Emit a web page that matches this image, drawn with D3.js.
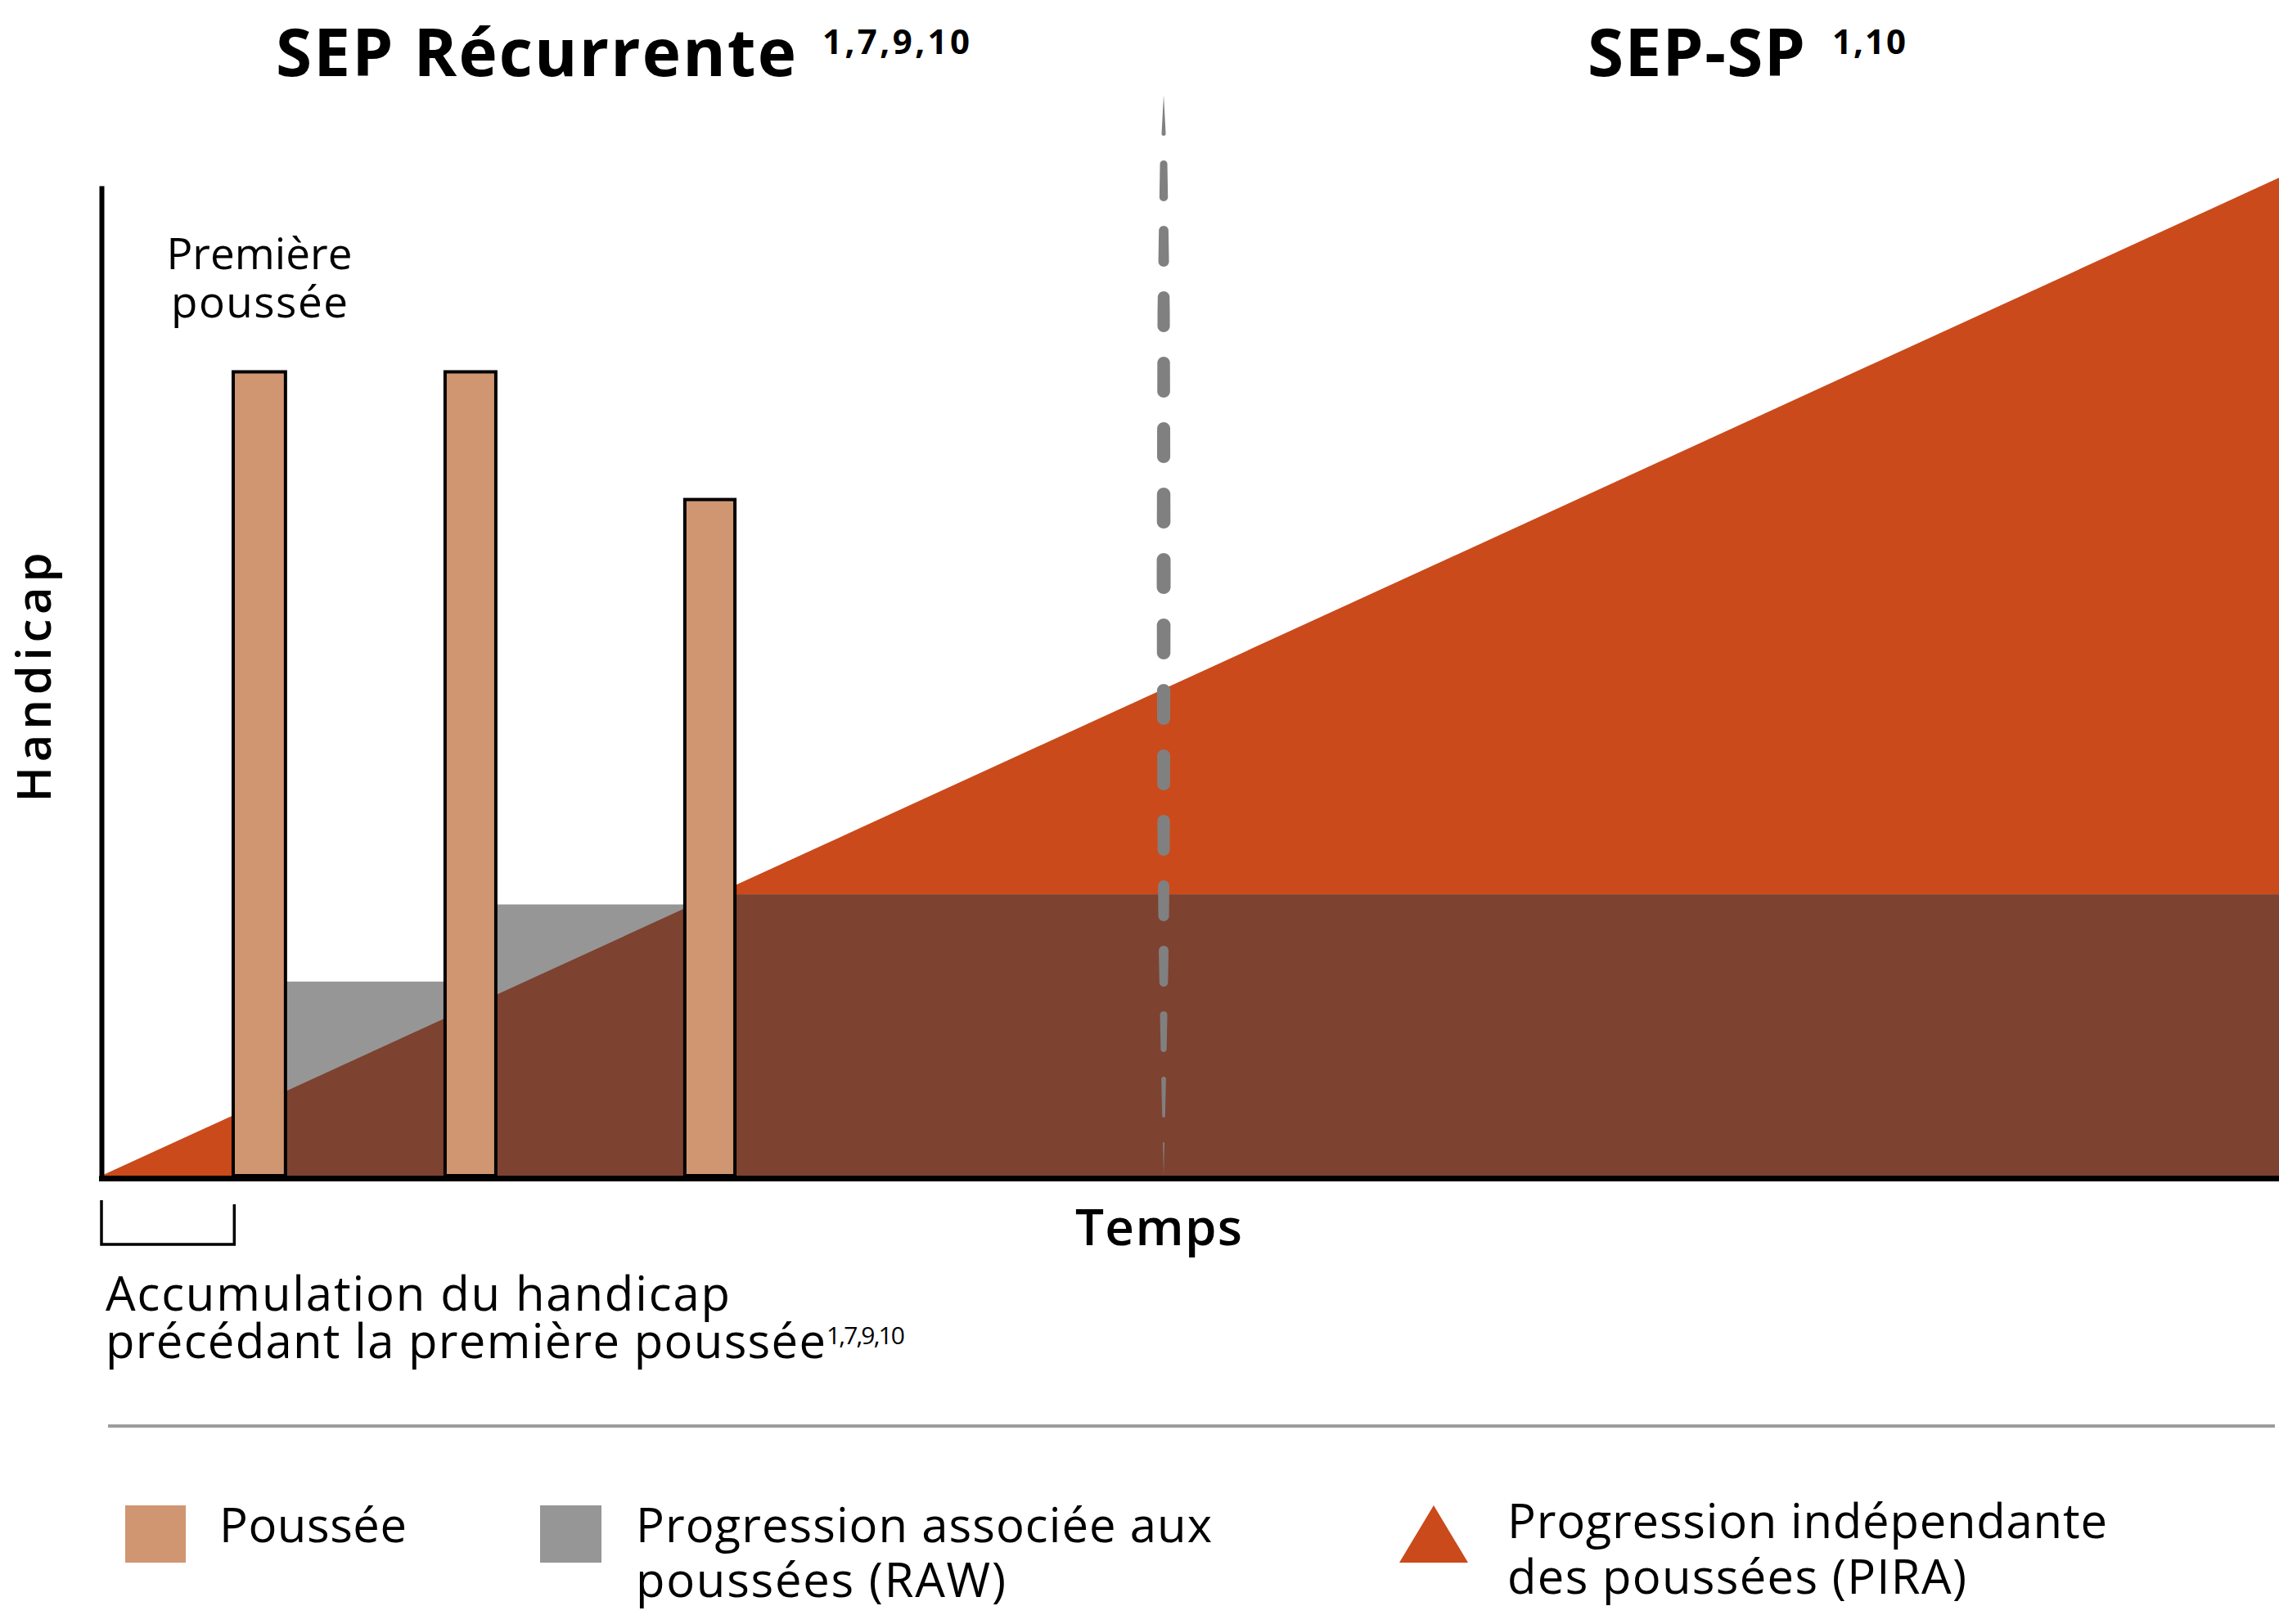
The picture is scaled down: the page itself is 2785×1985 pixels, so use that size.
<!DOCTYPE html>
<html><head><meta charset="utf-8">
<script src="https://cdn.jsdelivr.net/npm/d3@7"></script>
<style>
body{margin:0;background:#fff}
svg{display:block}
text{font-family:"Open Sans",sans-serif;fill:#000}
</style>
</head><body>
<svg id="chart" width="2785" height="1985"></svg>
<script>
// ---------------- data ----------------
const relapseNames   = ["Première poussée", "Poussée 2", "Poussée 3"];
const relapseStart   = [6.05, 15.78, 26.79];
const relapseEnd     = [8.45, 18.11, 29.09];
const relapseHeight  = [81.2, 81.2, 68.3];
const rawTime        = [0, 7.25, 16.95, 27.94, 100];
const rawLevel       = [0, 19.6, 27.4, 28.4, 28.4];
const piraTime       = [0, 100];
const piraLevel      = [0, 100.8];
const transitionTime = 48.78;
const preRelapseSpan = [0, 6.1];
const phaseTitles    = ["SEP Récurrente", "SEP-SP"];
const phaseRefs      = ["1,7,9,10", "1,10"];
const axisTitles     = ["Temps", "Handicap"];
const firstRelapseLabel = ["Première", "poussée"];
const bracketLabel   = ["Accumulation du handicap", "précédant la première poussée"];
const bracketRef     = "1,7,9,10";
const legendLabels   = [["Poussée"], ["Progression associée aux", "poussées (RAW)"], ["Progression indépendante", "des poussées (PIRA)"]];

// ---------------- styles ----------------
const C = {orange:"#CA4A1B", brown:"#7E4230", gray:"#969696", bar:"#D09672", dash:"#808080", sep:"#9C9C9C"};

const svg = d3.select("#chart");
const x = d3.scaleLinear().domain([0, 100]).range([124, 2785]);
const y = d3.scaleLinear().domain([0, 100]).range([1437, 227]);

const raw  = rawTime.map((t, i) => ({t, v: rawLevel[i]}));
const pira = piraTime.map((t, i) => ({t, v: piraLevel[i]}));

const areaStep = d3.area().x(d => x(d.t)).y0(y(0)).y1(d => y(d.v)).curve(d3.curveStepAfter);
const areaLin  = d3.area().x(d => x(d.t)).y0(y(0)).y1(d => y(d.v));

const defs = svg.append("defs");
defs.append("clipPath").attr("id", "piraClip").append("path").attr("d", areaLin(pira));

// PIRA triangle
svg.append("path").attr("d", areaLin(pira)).attr("fill", C.orange);
// RAW step area
svg.append("path").attr("d", areaStep(raw)).attr("fill", C.gray);
// overlap (RAW ∩ PIRA)
svg.append("path").attr("d", areaStep(raw)).attr("fill", C.brown).attr("clip-path", "url(#piraClip)");

// tapered dashed transition line
const cx = x(transitionTime);
const dashTop = 116, dashBottom = y(0), dashPeriod = 80, dashLen = 50;
const wScale = d3.scaleLinear()
  .domain([116, 200, 380, 700, 1000, 1150, 1314, 1437])
  .range([0, 9, 15, 17, 15.5, 12.5, 6, 0]).clamp(true);
const dashArea = d3.area().y(d => d.y).x0(d => cx - d.h).x1(d => cx + d.h);
function dashPts(y0, y1) {
  const pts = [];
  const r0 = wScale(y0) / 2, r1 = wScale(y1) / 2;
  const ys = d3.range(y0, y1, 0.5).concat([y1]);
  ys.forEach(yy => {
    let h = wScale(yy) / 2;
    const dT = yy - y0, dB = y1 - yy;
    if (r0 > 0 && dT < r0) h *= Math.sqrt(Math.max(0, 1 - Math.pow((r0 - dT) / r0, 2)));
    if (r1 > 0 && dB < r1) h *= Math.sqrt(Math.max(0, 1 - Math.pow((r1 - dB) / r1, 2)));
    pts.push({y: yy, h});
  });
  return pts;
}
const dashStarts = d3.range(dashTop, dashBottom, dashPeriod);
svg.append("g").selectAll("path").data(dashStarts).join("path")
  .attr("d", s => dashArea(dashPts(s, Math.min(s + dashLen, dashBottom))))
  .attr("fill", C.dash);

// relapse bars
svg.append("g").selectAll("rect").data(relapseNames).join("rect")
  .attr("x", (d, i) => x(relapseStart[i]))
  .attr("width", (d, i) => x(relapseEnd[i]) - x(relapseStart[i]))
  .attr("y", (d, i) => y(relapseHeight[i]))
  .attr("height", (d, i) => y(0) - y(relapseHeight[i]))
  .attr("fill", C.bar).attr("stroke", "#000").attr("stroke-width", 4);

// axes (no ticks)
const gx = svg.append("g").attr("transform", "translate(0,1440)")
  .call(d3.axisBottom(x).tickValues([]).tickSizeOuter(0));
gx.select(".domain").attr("stroke", "#000").attr("stroke-width", 7).attr("stroke-linecap", "square");
const gy = svg.append("g").attr("transform", "translate(124,0)")
  .call(d3.axisLeft(y).tickValues([]).tickSizeOuter(0));
gy.select(".domain").attr("stroke", "#000").attr("stroke-width", 6);

// bracket under the pre-relapse period
const b0 = x(preRelapseSpan[0]), b1 = x(preRelapseSpan[1]);
svg.append("path").attr("d", `M${b0},1467V1521H${b1}V1472`)
  .attr("fill", "none").attr("stroke", "#000").attr("stroke-width", 3.5);

// text helpers
function txt(str, px, py, o) {
  const t = svg.append("text").attr("x", px).attr("y", py).text(str)
    .attr("font-size", o.size).attr("font-weight", o.weight || 400)
    .attr("text-anchor", o.anchor || "start");
  if (o.len) t.attr("textLength", o.len).attr("lengthAdjust", "spacing");
  if (o.transform) t.attr("transform", o.transform);
  return t;
}
// multi-line text: one <text>, one <tspan> per line
function block(lines, o) {
  const t = svg.append("text").attr("font-size", o.size).attr("font-weight", o.weight || 400)
    .attr("text-anchor", o.anchor || "start");
  lines.forEach((ln, i) => {
    const s = t.append("tspan").attr("x", ln.x).attr("y", ln.y).text(ln.text);
    if (ln.len) s.attr("textLength", ln.len).attr("lengthAdjust", "spacing");
    if (ln.size) s.attr("font-size", ln.size);
  });
  return t;
}

// phase titles
txt(phaseTitles[0], 337, 93, {size: 80, weight: 700, len: 636});
txt(phaseRefs[0], 1005, 66, {size: 42, weight: 700, len: 180});
txt(phaseTitles[1], 1940, 93, {size: 80, weight: 700, len: 266});
txt(phaseRefs[1], 2239, 66, {size: 42, weight: 700, len: 90});

// first relapse label
const bc = (x(relapseStart[0]) + x(relapseEnd[0])) / 2;
block([
  {text: firstRelapseLabel[0], x: bc, y: 329, len: 227},
  {text: firstRelapseLabel[1], x: bc, y: 388, len: 216}
], {size: 53, anchor: "middle"});

// axis titles
txt(axisTitles[0], 1416, 1522, {size: 62, weight: 600, anchor: "middle", len: 204});
txt(axisTitles[1], 0, 0, {size: 58, weight: 600, anchor: "middle", len: 305, transform: "translate(62,828) rotate(-90)"});

// bracket label
block([
  {text: bracketLabel[0], x: 129, y: 1602, len: 763},
  {text: bracketLabel[1], x: 129, y: 1660, len: 880},
  {text: bracketRef, x: 1010, y: 1643, len: 96, size: 30}
], {size: 58});

// separator
svg.append("line").attr("x1", 132).attr("x2", 2780).attr("y1", 1743).attr("y2", 1743)
  .attr("stroke", C.sep).attr("stroke-width", 4);

// legend
svg.append("rect").attr("x", 153).attr("y", 1840).attr("width", 74).attr("height", 70).attr("fill", C.bar);
svg.append("rect").attr("x", 660).attr("y", 1840).attr("width", 75).attr("height", 70).attr("fill", C.gray);
svg.append("path").attr("d", d3.line()([[1710, 1910], [1752, 1840], [1794, 1910]]) + "Z").attr("fill", C.orange);
txt(legendLabels[0][0], 268, 1885, {size: 58, len: 229});
block([
  {text: legendLabels[1][0], x: 777, y: 1885, len: 704},
  {text: legendLabels[1][1], x: 777, y: 1952, len: 452}
], {size: 58});
block([
  {text: legendLabels[2][0], x: 1842, y: 1880, len: 733},
  {text: legendLabels[2][1], x: 1842, y: 1948, len: 561}
], {size: 58});
</script>
</body></html>
